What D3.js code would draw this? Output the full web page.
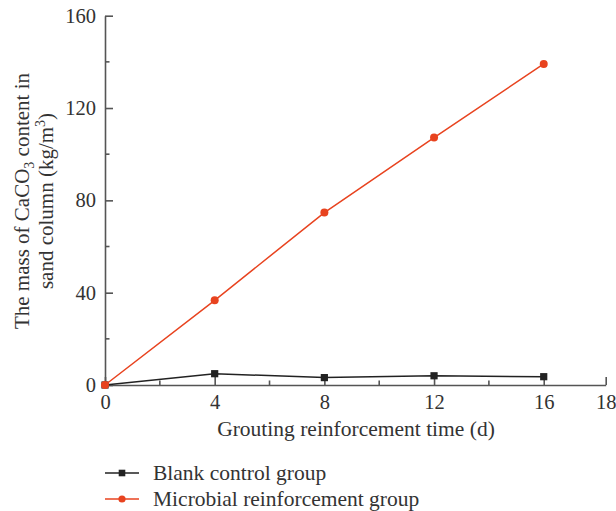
<!DOCTYPE html>
<html>
<head>
<meta charset="utf-8">
<script src="https://cdn.jsdelivr.net/npm/d3@7"></script>
<style>
  body { margin: 0; background: #fff; }
  text { font-family: "Liberation Serif", "DejaVu Serif", serif; fill: #333; }
</style>
</head>
<body>
<div id="chart"></div>
<script>
const svgWidth = 616;
const svgHeight = 511;

// data
const days = [0, 4, 8, 12, 16];
const blankValues = [0, 4.9, 3.2, 4.0, 3.6];
const microbialValues = [0, 36.7, 74.7, 107.2, 139.1];
const xTickLabels = [0, 4, 8, 12, 16, 18];
const yTickLabels = [0, 40, 80, 120, 160];
const seriesNames = ["Blank control group", "Microbial reinforcement group"];

const axisColor = "#555";
const black = "#222";
const red = "#e8431f";

// axis ends a bit past 18 in the original
const xMax = 18.26;

let xScale = d3.scaleLinear().domain([0, xMax]).range([105, 605.7]);
let yScale = d3.scaleLinear().domain([0, 160]).range([385, 15.7]);

const svg = d3.select("#chart")
    .append("svg")
    .attr("width", svgWidth)
    .attr("height", svgHeight);

// x axis, ticks pointing inward
const xAxis = d3.axisBottom(xScale)
    .tickValues(xTickLabels.map(d => d === 18 ? xMax : d))
    .tickFormat(d => d === xMax ? "18" : d)
    .tickSizeInner(-8)
    .tickSizeOuter(0)
    .tickPadding(9);

const gx = svg.append("g")
    .attr("transform", `translate(0, ${yScale(0)})`)
    .call(xAxis);

gx.selectAll(".minor")
    .data([2, 6, 10, 14])
    .enter()
    .append("line")
    .attr("x1", d => xScale(d))
    .attr("x2", d => xScale(d))
    .attr("y1", 0)
    .attr("y2", -4.5);

// y axis
const yAxis = d3.axisLeft(yScale)
    .tickValues(yTickLabels)
    .tickSizeInner(-8)
    .tickSizeOuter(0)
    .tickPadding(9);

const gy = svg.append("g")
    .attr("transform", `translate(${xScale(0)}, 0)`)
    .call(yAxis);

gy.selectAll(".minor")
    .data([20, 60, 100, 140])
    .enter()
    .append("line")
    .attr("y1", d => yScale(d))
    .attr("y2", d => yScale(d))
    .attr("x1", 0)
    .attr("x2", 4.5);

svg.selectAll(".domain, .tick line, .minor, g line")
    .attr("stroke", axisColor)
    .attr("stroke-width", 1.6);

svg.selectAll(".tick text")
    .attr("font-size", 20.5)
    .attr("fill", "#333")
    .style("font-family", '"Liberation Serif", serif');

// labels
svg.append("text")
    .attr("x", 356)
    .attr("y", 436)
    .attr("text-anchor", "middle")
    .attr("font-size", 21.5)
    .text("Grouting reinforcement time (d)");

const yTitle = svg.append("g")
    .attr("transform", "translate(0, 201) rotate(-90)")
    .attr("font-size", 21);

const line1 = yTitle.append("text")
    .attr("x", 0)
    .attr("y", 29)
    .attr("text-anchor", "middle");
line1.append("tspan").text("The mass of CaCO");
line1.append("tspan").attr("font-size", 14).attr("dy", 5).text("3");
line1.append("tspan").attr("dy", -5).text(" content in");

const line2 = yTitle.append("text")
    .attr("x", 0)
    .attr("y", 53)
    .attr("text-anchor", "middle");
line2.append("tspan").text("sand column (kg/m");
line2.append("tspan").attr("font-size", 14).attr("dy", -8).text("3");
line2.append("tspan").attr("dy", 8).text(")");

// lines
const line = d3.line()
    .x((d, i) => xScale(days[i]))
    .y(d => yScale(d));

svg.append("path")
    .datum(blankValues)
    .attr("d", line)
    .attr("fill", "none")
    .attr("stroke", black)
    .attr("stroke-width", 1.5);

svg.append("g")
    .selectAll("rect")
    .data(blankValues)
    .enter()
    .append("rect")
    .attr("x", (d, i) => xScale(days[i]) - 3.6)
    .attr("y", d => yScale(d) - 3.6)
    .attr("width", 7.2)
    .attr("height", 7.2)
    .attr("fill", black);

svg.append("path")
    .datum(microbialValues)
    .attr("d", line)
    .attr("fill", "none")
    .attr("stroke", red)
    .attr("stroke-width", 1.5);

svg.append("g")
    .selectAll("circle")
    .data(microbialValues)
    .enter()
    .append("circle")
    .attr("cx", (d, i) => xScale(days[i]))
    .attr("cy", d => yScale(d))
    .attr("r", 4)
    .attr("fill", red);

// legend
const legend = svg.append("g");
const legendRows = [473, 499];

legend.selectAll("line")
    .data(seriesNames)
    .enter()
    .append("line")
    .attr("x1", 105)
    .attr("x2", 139)
    .attr("y1", (d, i) => legendRows[i])
    .attr("y2", (d, i) => legendRows[i])
    .attr("stroke", (d, i) => i === 0 ? black : red)
    .attr("stroke-width", 1.5);

legend.append("rect")
    .attr("x", 122 - 3.3)
    .attr("y", legendRows[0] - 3.3)
    .attr("width", 6.6)
    .attr("height", 6.6)
    .attr("fill", black);

legend.append("circle")
    .attr("cx", 122)
    .attr("cy", legendRows[1])
    .attr("r", 3.6)
    .attr("fill", red);

legend.selectAll("text")
    .data(seriesNames)
    .enter()
    .append("text")
    .attr("x", 153)
    .attr("y", (d, i) => legendRows[i] + 6.5)
    .attr("font-size", 21.5)
    .text(d => d);
</script>
</body>
</html>
